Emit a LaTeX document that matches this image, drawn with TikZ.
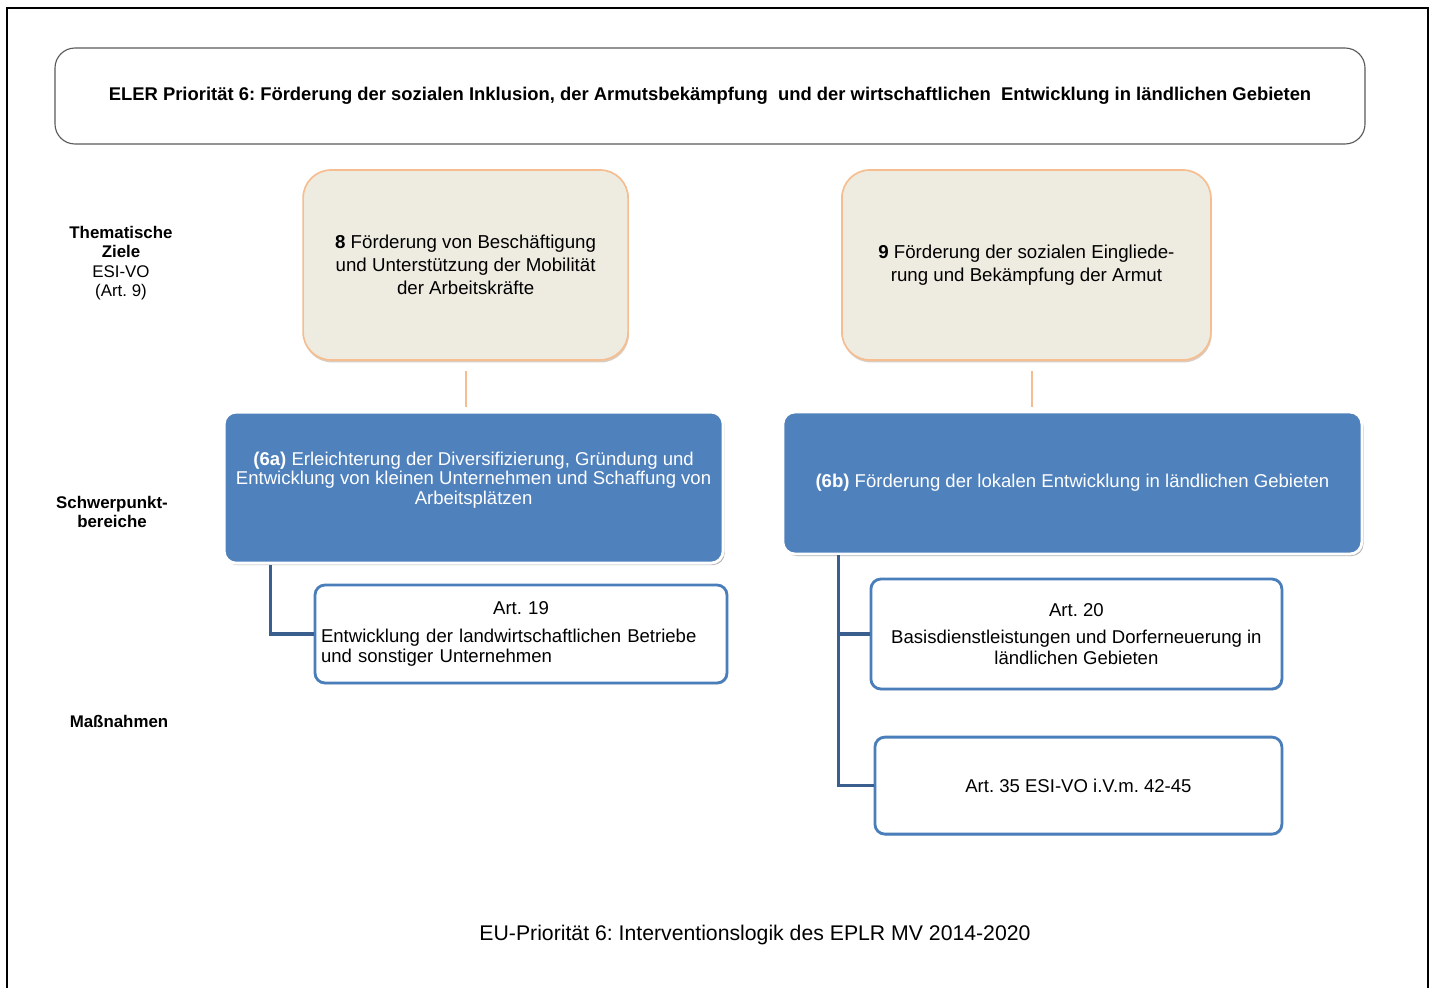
\documentclass[tikz,border=0pt]{standalone}
\usepackage{fontspec}
\setmainfont{Liberation Sans}
\usepackage{xcolor}
\usepackage{tikz}
\usetikzlibrary{positioning,shadows}
\frenchspacing

\definecolor{tzfill}{HTML}{EEECE1}
\definecolor{tzdraw}{HTML}{F6BE90}
\definecolor{spbfill}{HTML}{4F81BD}
\definecolor{mndraw}{HTML}{4A7EBB}
\definecolor{mncon}{HTML}{3A5F8E}

\begin{document}
\begin{tikzpicture}[
  prio/.style={draw=black!65, thick, rounded corners=0.5cm,
               minimum width=32.75cm, minimum height=2.4cm,
               font=\fontsize{13.1}{15}\selectfont\bfseries},
  tz/.style={draw=tzdraw, line width=1.2pt, fill=tzfill,
             rounded corners=0.7cm, minimum height=4.75cm, align=center,
             font=\fontsize{13.3}{16.3}\selectfont,
             drop shadow={shadow xshift=0.02cm, shadow yshift=-0.06cm,
                          fill=brown!70!black, opacity=0.3}},
  spb/.style={draw=white, line width=2pt, fill=spbfill, text=white,
              rounded corners=0.3cm, align=center,
              font=\fontsize{13.2}{13.9}\selectfont,
              drop shadow={shadow xshift=0.04cm, shadow yshift=-0.05cm,
                           fill=black, opacity=0.3}},
  mn/.style={draw=mndraw, line width=2pt, fill=white,
             rounded corners=0.25cm, minimum height=2.45cm,
             font=\fontsize{13.2}{14.4}\selectfont,
             drop shadow={shadow xshift=0.03cm, shadow yshift=-0.04cm,
                          fill=black, opacity=0.12}},
  lbl/.style={align=center, font=\fontsize{12}{13.8}\selectfont},
  tzline/.style={draw=tzdraw, line width=1.5pt},
  mline/.style={draw=mncon, line width=2.2pt},
]
\useasboundingbox (0,0) rectangle (35.825,-24.7);

% ---- frame ----
\draw[line width=1.2pt] (0.175,-24.7) -- (0.175,-0.2) -- (35.7,-0.2) -- (35.7,-24.7);

% ---- priority ----
\node[prio] (P6) at (17.75,-2.4)
  {ELER Priorität 6: Förderung der sozialen Inklusion, der Armutsbekämpfung\ \ und der wirtschaftlichen\ \ Entwicklung in ländlichen Gebieten};

% ---- row labels ----
\node[lbl] (Lziel) at (3.025,-6.575)
  {\textbf{Thematische}\\\textbf{Ziele}\\ESI-VO\\(Art. 9)};
\node[lbl, font=\fontsize{12}{13.8}\selectfont\bfseries] (Lspb) at (2.8,-12.8)
  {Schwerpunkt-\\bereiche};
\node[lbl, font=\fontsize{12}{13.8}\selectfont\bfseries] (Lmn) at (2.975,-18.025)
  {Maßnahmen};

% ---- thematic goals ----
\node[tz, minimum width=8.125cm] (TZ8) at (11.64,-6.625)
  {\textbf{8} Förderung von Beschäftigung\\und Unterstützung der Mobilität\\der Arbeitskräfte};
\node[tz, minimum width=9.225cm] (TZ9) at (25.66,-6.625)
  {\textbf{9} Förderung der sozialen Eingliede-\\rung und Bekämpfung der Armut};
\coordinate (t9) at ([xshift=0.14cm]TZ9.south);

% ---- focus areas ----
\node[spb, minimum width=12.475cm, minimum height=3.775cm] (SP6a) at (11.84,-12.19)
  {\textbf{(6a)} Erleichterung\ der Diversifizierung, Gründung und\\Entwicklung von kleinen Unternehmen\ und Schaffung von\\Arbeitsplätzen\\\mbox{}};
\node[spb, minimum width=14.475cm, minimum height=3.55cm] (SP6b) at (26.81,-12.075)
  {\textbf{(6b)} Förderung der lokalen Entwicklung in ländlichen Gebieten};

% ---- measures ----
\node[mn, minimum width=10.3cm, text width=10cm, align=left, inner xsep=0.15cm] (M19) at (13.025,-15.85)
  {\hfill Art. 19\hfill\mbox{}\\[5pt]Entwicklung der landwirtschaftlichen Betriebe\\und sonstiger Unternehmen};
\node[mn, minimum width=10.275cm, minimum height=2.75cm, align=center] (M20) at (26.91,-15.85)
  {Art. 20\\[5pt]Basisdienstleistungen und Dorferneuerung in\\ländlichen Gebieten};
\node[mn, minimum width=10.175cm, minimum height=2.425cm] (M35) at (26.96,-19.64)
  {Art. 35 ESI-VO i.V.m. 42-45};

% ---- connectors ----
\draw[tzline] ([yshift=-0.25cm]TZ8.south) -- ([yshift=0.1cm]TZ8.south |- SP6a.north);
\draw[tzline] ([yshift=-0.25cm]t9) -- ([yshift=0.1cm]t9 |- SP6b.north);
\draw[mline] ([xshift=1.2cm]SP6a.south west) |- (M19.west);
\draw[mline] ([xshift=1.425cm]SP6b.south west) |- (M20.west);
\draw[mline] ([xshift=1.425cm]SP6b.south west) |- (M35.west);

% ---- caption ----
\node[font=\fontsize{15.1}{18}\selectfont] (cap) at (18.875,-23.375)
  {EU-Priorität 6: Interventionslogik des EPLR MV 2014-2020};

\end{tikzpicture}
\end{document}
